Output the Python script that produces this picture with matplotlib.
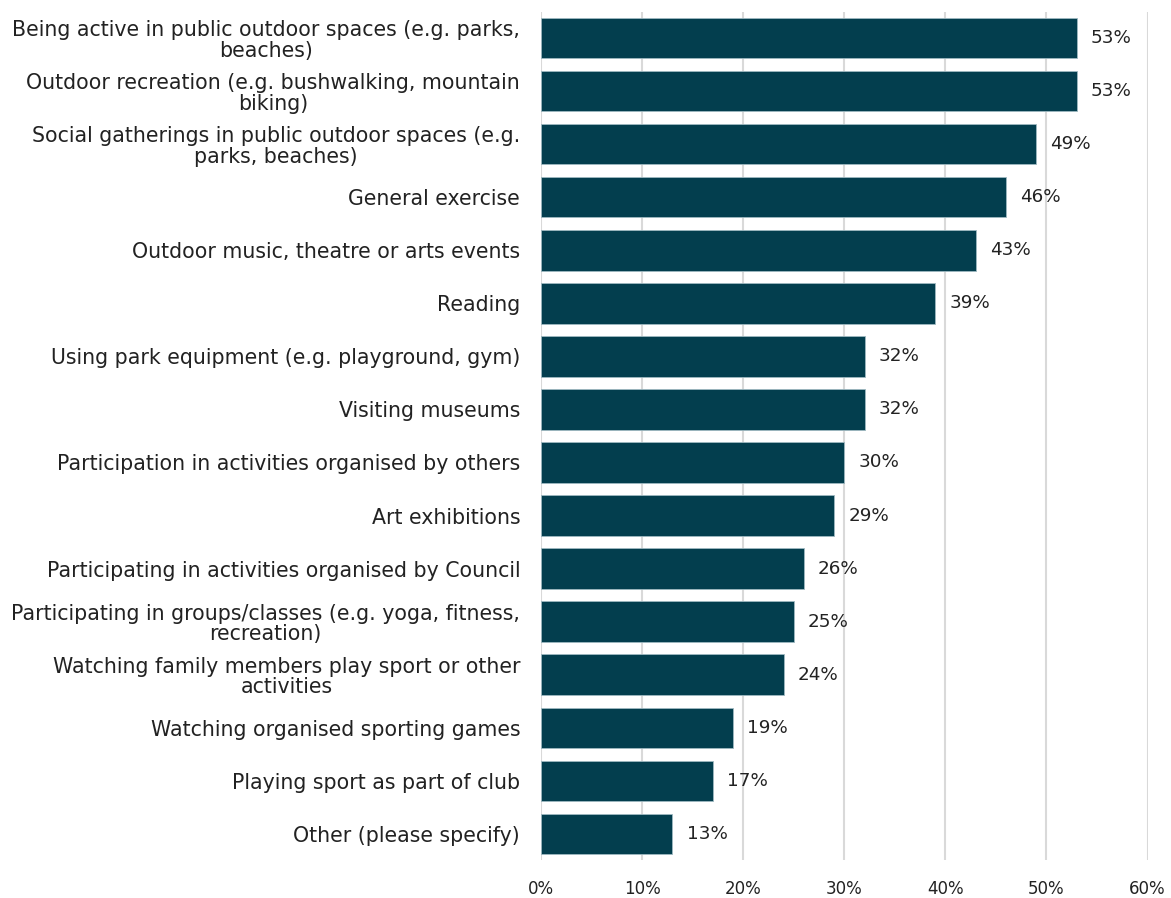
import matplotlib
matplotlib.use("Agg")
import matplotlib.pyplot as plt
from matplotlib.ticker import PercentFormatter

# survey categories, top to bottom
labels = [
    "Being active in public outdoor spaces (e.g. parks,\nbeaches)",
    "Outdoor recreation (e.g. bushwalking, mountain\nbiking)",
    "Social gatherings in public outdoor spaces (e.g.\nparks, beaches)",
    "General exercise",
    "Outdoor music, theatre or arts events",
    "Reading",
    "Using park equipment (e.g. playground, gym)",
    "Visiting museums",
    "Participation in activities organised by others",
    "Art exhibitions",
    "Participating in activities organised by Council",
    "Participating in groups/classes (e.g. yoga, fitness,\nrecreation)",
    "Watching family members play sport or other\nactivities",
    "Watching organised sporting games",
    "Playing sport as part of club",
    "Other (please specify)",
]
values = [53, 53, 49, 46, 43, 39, 32, 32, 30, 29, 26, 25, 24, 19, 17, 13]
xticks = [0, 10, 20, 30, 40, 50, 60]

bar_color = "#033E4E"
text_color = "#222222"

plt.rcParams["font.family"] = ["DejaVu Sans"]

fig = plt.figure(figsize=(11.71, 8.98), dpi=100)
ax = fig.add_axes([0.462, 0.042, 0.518, 0.945])

pos = list(range(len(labels)))
bars = ax.barh(pos, values, height=0.76, color=bar_color,
               edgecolor="#9fb9c1", linewidth=0.6, zorder=3)
ax.set_ylim(len(labels) - 0.5, -0.5)
ax.set_xlim(0, 60)

# value labels just past the end of each bar
for b, v in zip(bars, values):
    ax.text(b.get_width() + 1.4, b.get_y() + b.get_height() / 2, f"{v}%",
            va="center", ha="left", fontsize=13.2, color=text_color)

ax.set_yticks(pos)
ax.set_yticklabels(labels, fontsize=14.8, color=text_color, linespacing=1.05)
for t in ax.get_yticklabels():
    t.set_horizontalalignment("right")
    t.set_multialignment("center")

ax.set_xticks(xticks)
ax.xaxis.set_major_formatter(PercentFormatter(decimals=0))
ax.tick_params(axis="x", labelsize=12, colors=text_color, length=0, pad=14)
ax.tick_params(axis="y", length=0, pad=15)

ax.grid(axis="x", color="#d9d9d9", linewidth=1.5, zorder=0)
for s in ax.spines.values():
    s.set_visible(False)

fig.savefig("out.png", dpi=100)
